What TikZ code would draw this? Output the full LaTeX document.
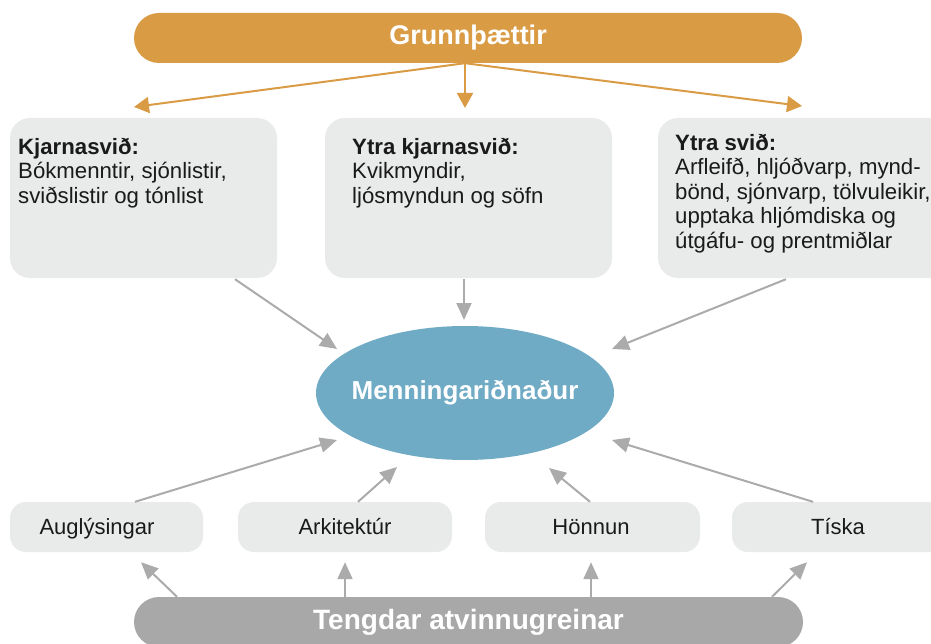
\documentclass[tikz,border=0pt]{standalone}
\usepackage{fontspec}
\setmainfont{Liberation Sans}
\usetikzlibrary{arrows.meta,shapes.geometric,calc}
\definecolor{orng}{HTML}{DA9B45}
\definecolor{blu}{HTML}{70ABC5}
\definecolor{lgray}{HTML}{E9EAEA}
\definecolor{agray}{HTML}{ABABAB}
\definecolor{pgray}{HTML}{A8A8A8}
\definecolor{txt}{HTML}{1A1A1A}
\begin{document}
\begin{tikzpicture}[x=1pt,y=-1pt,
  pill/.style={rectangle, rounded corners=25pt, minimum height=50pt, inner sep=0pt, text=white},
  bigbox/.style={rectangle, fill=lgray, rounded corners=20pt, minimum height=160pt, inner sep=0pt},
  smallbox/.style={rectangle, fill=lgray, rounded corners=16pt, minimum height=50pt, inner sep=0pt},
  bodytext/.style={anchor=north west, align=left, inner sep=0pt, text=txt, font=\fontsize{22.2}{24.5}\selectfont},
  labeltext/.style={anchor=base, inner sep=0pt, text=txt, font=\fontsize{22}{26}\selectfont},
  oarrow/.style={draw=orng, line width=2pt, -{Triangle[length=15pt,width=16pt]}},
  garrow/.style={draw=agray, line width=2pt, -{Triangle[length=17pt,width=15pt]}}
]
\path[use as bounding box] (0,0) rectangle (931,644);
\clip (0,0) rectangle (931,644);

% top pill
\node[pill, fill=orng, minimum width=668pt, font=\bfseries\fontsize{27}{30}\selectfont] (top) at (468,38) {Grunnþættir};

% big boxes
\node[bigbox, minimum width=267pt] (b1) at (143.5,198) {};
\node[bigbox, minimum width=287pt] (b2) at (468.5,198) {};
\node[bigbox, minimum width=302pt] (b3) at (809,198) {};
\node[bodytext] (t1) at (18,137) {\rule{0pt}{17pt}\textbf{Kjarnasvið:}\\Bókmenntir, sjónlistir,\\sviðslistir og tónlist};
\node[bodytext] (t2) at (352,137) {\rule{0pt}{17pt}\textbf{Ytra kjarnasvið:}\\Kvikmyndir,\\ljósmyndun og söfn};
\node[bodytext] (t3) at (675,133) {\rule{0pt}{17pt}\textbf{Ytra svið:}\\Arfleifð, hljóðvarp, mynd-\\bönd, sjónvarp, tölvuleikir,\\upptaka hljómdiska og\\útgáfu- og prentmiðlar};

% ellipse
\node[ellipse, fill=blu, minimum width=298pt, minimum height=134pt, inner sep=0pt] (core) at (465,393) {};
\node[inner sep=0pt, text=white, font=\bfseries\fontsize{26}{30}\selectfont] (coretext) at (core.center) {Menningariðnaður};

% small boxes
\node[smallbox, minimum width=193pt] (s1) at (106.5,527) {};
\node[smallbox, minimum width=214pt] (s2) at (345,527) {};
\node[smallbox, minimum width=215pt] (s3) at (592.5,527) {};
\node[smallbox, minimum width=228pt] (s4) at (846,527) {};
\node[labeltext] (l1) at (97,534) {Auglýsingar};
\node[labeltext] (l2) at (345,534) {Arkitektúr};
\node[labeltext] (l3) at (591,534) {Hönnun};
\node[labeltext] (l4) at (838,534) {Tíska};

% bottom pill
\node[pill, fill=pgray, minimum width=669pt, font=\bfseries\fontsize{28}{30}\selectfont] (bot) at (468.5,622) {Tengdar atvinnugreinar};

% arrow end coordinates
\coordinate (o1) at (134,107);
\coordinate (o2) at (465,108);
\coordinate (o3) at (802,106);
\coordinate (c1) at (337,349);
\coordinate (c2) at (464,320);
\coordinate (c3) at (612,349);
\coordinate (c4) at (337,440);
\coordinate (c5) at (397,467);
\coordinate (c6) at (549,468);
\coordinate (c7) at (612,440);

% orange arrows
\draw[oarrow] ($(top.south)+(-3,0)$) -- (o1);
\draw[oarrow] ($(top.south)+(-3,0)$) -- (o2);
\draw[oarrow] ($(top.south)+(-3,0)$) -- (o3);

% boxes to core
\draw[garrow] ($(b1.south)+(91.5,1)$) -- (c1);
\draw[garrow] ($(b2.south)+(-4.5,1)$) -- (c2);
\draw[garrow] ($(b3.south)+(-23,1)$) -- (c3);

% small boxes to core
\draw[garrow] ($(s1.north)+(28.5,0)$) -- (c4);
\draw[garrow] ($(s2.north)+(13,0)$) -- (c5);
\draw[garrow] ($(s3.north)+(-2.5,0)$) -- (c6);
\draw[garrow] ($(s4.north)+(-33,0)$) -- (c7);

% bottom pill to small boxes
\draw[garrow] ($(bot.north)+(-291.5,0)$) -- ($(s1.south)+(34.5,10)$);
\draw[garrow] ($(bot.north)+(-123.5,0)$) -- ($(s2.south)+(0,10)$);
\draw[garrow] ($(bot.north)+(122.5,0)$) -- ($(s3.south)+(-1.5,10)$);
\draw[garrow] ($(bot.north)+(303.5,0)$) -- ($(s4.south)+(-39,10)$);
\end{tikzpicture}
\end{document}
